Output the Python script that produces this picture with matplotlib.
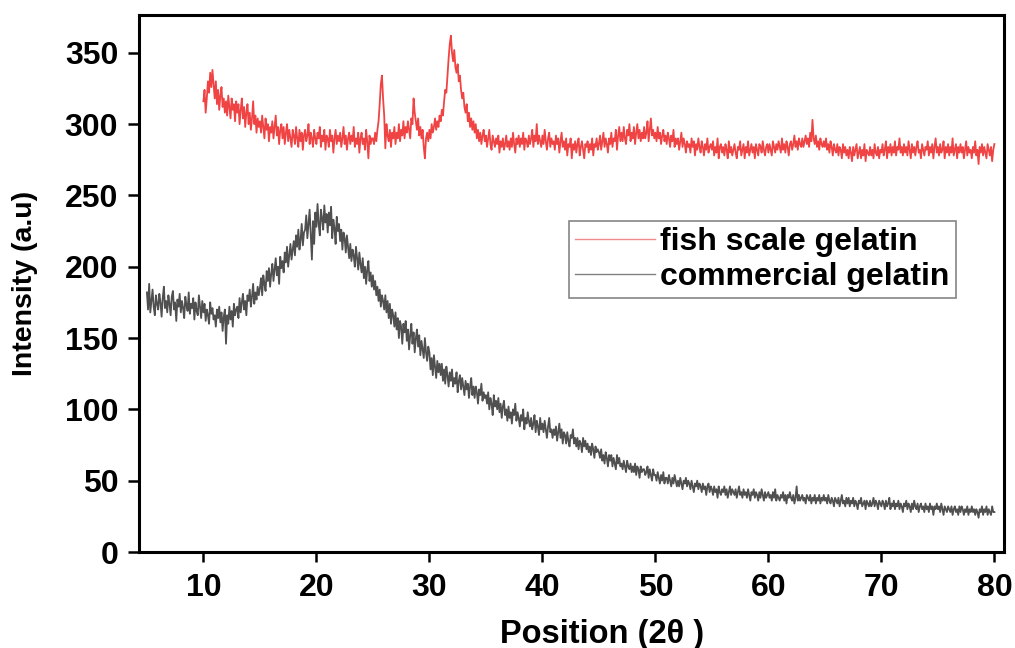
import numpy as np
import matplotlib
matplotlib.use("Agg")
import matplotlib.pyplot as plt
from matplotlib.lines import Line2D

# ---------------- data ----------------
# 2-theta positions, 0.1 degree step; one row = one degree
commercial_start, commercial_step = 5.0, 0.1
fish_start, fish_step = 10.0, 0.1

commercial_gelatin = [
    182, 170, 188, 168, 176, 184, 172, 166, 180, 174,
    170, 181, 175, 165, 178, 186, 171, 176, 168, 180,
    174, 166, 179, 183, 170, 175, 162, 177, 172, 181,
    168, 176, 171, 164, 179, 173, 169, 182, 167, 174,
    171, 178, 163, 175, 169, 166, 180, 172, 164, 176,
    168, 174, 162, 170, 166, 160, 175, 167, 171, 163,
    166, 158, 170, 164, 172, 161, 168, 155, 165, 170,
    146, 166, 160, 172, 163, 169, 158, 174, 166, 170,
    172, 164, 178, 168, 175, 181, 170, 176, 166, 180,
    176, 184, 172, 179, 188, 174, 182, 177, 186, 180,
    185, 192, 180, 194, 188, 183, 197, 190, 199, 186,
    195, 202, 190, 198, 206, 194, 200, 188, 207, 199,
    204, 196, 210, 203, 214, 200, 208, 216, 205, 212,
    218, 208, 222, 214, 226, 212, 219, 230, 215, 224,
    226, 236, 220, 230, 240, 222, 205, 232, 216, 238,
    228, 244, 230, 222, 240, 234, 226, 243, 231, 237,
    224, 238, 229, 242, 220, 233, 227, 216, 235, 225,
    230, 218, 226, 212, 224, 220, 210, 222, 214, 206,
    216, 204, 212, 208, 200, 214, 206, 198, 210, 202,
    196, 206, 192, 200, 188, 198, 204, 190, 196, 186,
    194, 184, 190, 180, 186, 176, 184, 172, 180, 176,
    170, 180, 168, 176, 164, 174, 160, 170, 166, 158,
    168, 156, 164, 150, 162, 158, 146, 160, 154, 162,
    148, 156, 142, 152, 160, 146, 154, 140, 150, 156,
    144, 152, 138, 148, 142, 136, 150, 140, 134, 144,
    140, 128, 136, 124, 138, 130, 122, 134, 126, 132,
    124, 132, 120, 128, 118, 130, 124, 116, 126, 120,
    128, 116, 122, 118, 126, 112, 120, 124, 114, 122,
    116, 110, 120, 114, 118, 108, 116, 122, 110, 116,
    108, 116, 112, 104, 114, 110, 118, 106, 112, 108,
    110, 104, 112, 100, 108, 104, 96, 110, 102, 106,
    100, 108, 98, 104, 94, 102, 106, 96, 100, 92,
    102, 94, 98, 90, 100, 96, 104, 92, 98, 94,
    88, 96, 92, 100, 86, 94, 90, 98, 92, 88,
    94, 86, 90, 96, 84, 92, 88, 82, 94, 86,
    90, 84, 92, 86, 80, 88, 94, 84, 86, 80,
    86, 82, 88, 78, 84, 90, 80, 86, 76, 84,
    82, 76, 84, 78, 74, 82, 80, 86, 76, 80,
    74, 80, 72, 78, 76, 70, 80, 74, 78, 72,
    76, 70, 74, 68, 76, 72, 66, 74, 70, 72,
    70, 66, 72, 64, 68, 62, 70, 66, 60, 68,
    64, 68, 60, 66, 62, 58, 68, 62, 66, 60,
    62, 58, 64, 60, 56, 64, 60, 58, 62, 56,
    60, 56, 62, 54, 60, 58, 52, 60, 56, 58,
    58, 54, 56, 60, 52, 58, 54, 50, 58, 54,
    54, 50, 56, 52, 48, 54, 50, 56, 48, 52,
    52, 48, 54, 50, 46, 52, 48, 54, 50, 46,
    50, 46, 52, 48, 44, 50, 48, 52, 46, 50,
    48, 44, 50, 46, 42, 48, 46, 50, 44, 48,
    46, 42, 48, 44, 46, 40, 46, 48, 42, 46,
    44, 40, 46, 42, 44, 38, 46, 42, 40, 44,
    42, 46, 40, 44, 38, 42, 46, 40, 44, 42,
    40, 44, 38, 42, 46, 40, 42, 38, 44, 40,
    42, 38, 44, 40, 36, 42, 40, 44, 38, 42,
    40, 36, 42, 38, 44, 40, 36, 42, 38, 40,
    42, 38, 40, 36, 42, 38, 44, 36, 40, 38,
    36, 40, 38, 42, 36, 40, 34, 40, 38, 42,
    38, 36, 40, 34, 38, 46, 36, 40, 36, 38,
    40, 36, 38, 34, 40, 38, 36, 40, 34, 38,
    36, 40, 34, 38, 36, 40, 34, 38, 36, 40,
    36, 38, 34, 40, 36, 34, 38, 36, 32, 38,
    36, 34, 38, 32, 36, 40, 34, 36, 32, 38,
    34, 38, 32, 36, 34, 38, 32, 36, 34, 30,
    36, 34, 38, 32, 34, 36, 30, 36, 34, 32,
    36, 32, 34, 38, 32, 36, 34, 30, 36, 34,
    32, 36, 34, 30, 36, 32, 34, 38, 30, 34,
    32, 36, 30, 34, 32, 36, 30, 34, 32, 28,
    34, 32, 36, 30, 34, 32, 28, 34, 30, 36,
    32, 30, 34, 28, 32, 34, 30, 32, 28, 34,
    30, 32, 28, 34, 30, 32, 26, 32, 30, 34,
    30, 32, 28, 34, 30, 26, 32, 30, 28, 32,
    30, 28, 32, 26, 30, 32, 28, 30, 26, 32,
    28, 32, 30, 26, 30, 28, 32, 26, 30, 28,
    32, 28, 30, 26, 30, 28, 24, 30, 28, 32,
    26, 30, 28, 32, 26, 30, 28, 26, 32, 28,
    28,
]

fish_scale_gelatin = [
    316, 324, 308, 318, 330, 322, 336, 326, 338, 328,
    318, 330, 314, 324, 310, 320, 326, 312, 318, 308,
    316, 306, 320, 312, 304, 318, 310, 314, 302, 316,
    308, 314, 300, 310, 318, 304, 312, 298, 308, 314,
    300, 308, 296, 304, 316, 300, 306, 294, 304, 298,
    302, 294, 306, 298, 290, 304, 296, 300, 288, 298,
    294, 302, 290, 298, 306, 292, 298, 286, 296, 300,
    290, 298, 286, 294, 300, 288, 296, 290, 284, 296,
    292, 286, 298, 290, 284, 296, 288, 294, 282, 292,
    296, 288, 292, 300, 286, 294, 290, 284, 296, 290,
    286, 294, 290, 298, 284, 292, 288, 296, 282, 292,
    290, 284, 296, 288, 292, 280, 290, 296, 286, 292,
    288, 294, 284, 290, 298, 286, 292, 282, 290, 294,
    286, 292, 288, 298, 284, 290, 286, 294, 280, 290,
    294, 286, 290, 282, 296, 288, 276, 292, 286, 290,
    290, 286, 294, 288, 296, 302, 314, 328, 334, 318,
    306, 283, 300, 292, 288, 296, 284, 294, 290, 298,
    286, 294, 290, 300, 288, 296, 292, 302, 290, 298,
    294, 302, 296, 290, 304, 300, 318, 308, 302, 296,
    304, 292, 298, 290, 296, 284, 276, 290, 294, 288,
    296, 290, 300, 294, 298, 304, 296, 302, 298, 306,
    302, 310, 306, 316, 324, 322, 334, 346, 356, 362,
    350, 344, 352, 340, 336, 342, 330, 334, 324, 318,
    322, 312, 308, 314, 302, 308, 298, 304, 296, 302,
    294, 300, 290, 296, 288, 294, 286, 292, 296, 288,
    292, 284, 290, 296, 286, 282, 292, 288, 284, 290,
    286, 292, 280, 288, 284, 290, 282, 286, 292, 284,
    288, 282, 290, 284, 294, 286, 280, 290, 286, 292,
    284, 290, 286, 294, 282, 290, 288, 284, 292, 286,
    290, 296, 284, 292, 288, 300, 286, 292, 288, 284,
    292, 286, 296, 288, 282, 290, 294, 284, 290, 286,
    288, 282, 292, 286, 290, 280, 288, 294, 284, 288,
    282, 290, 278, 286, 284, 290, 276, 286, 282, 288,
    280, 286, 290, 278, 284, 288, 282, 276, 286, 284,
    288, 280, 286, 282, 290, 278, 286, 284, 290, 282,
    286, 292, 282, 288, 294, 284, 290, 286, 280, 290,
    286, 294, 284, 290, 288, 296, 282, 292, 298, 288,
    294, 288, 298, 290, 286, 296, 292, 300, 288, 294,
    290, 298, 286, 294, 300, 290, 296, 288, 294, 290,
    298, 290, 294, 302, 288, 296, 304, 292, 296, 290,
    294, 288, 298, 290, 294, 286, 292, 296, 288, 292,
    286, 294, 290, 284, 292, 288, 296, 284, 290, 286,
    290, 282, 288, 294, 284, 290, 286, 280, 288, 284,
    286, 280, 290, 284, 288, 278, 286, 282, 290, 284,
    280, 288, 284, 278, 286, 282, 290, 280, 284, 286,
    282, 288, 278, 284, 280, 290, 276, 284, 286, 280,
    284, 278, 286, 282, 276, 288, 280, 284, 278, 282,
    286, 280, 276, 284, 282, 288, 278, 282, 286, 276,
    284, 280, 288, 278, 282, 286, 280, 284, 276, 286,
    282, 278, 286, 284, 280, 288, 282, 278, 284, 286,
    280, 286, 282, 278, 288, 284, 280, 286, 282, 288,
    284, 280, 290, 282, 286, 280, 288, 284, 278, 286,
    288, 282, 286, 292, 284, 288, 282, 290, 286, 284,
    290, 284, 288, 292, 286, 290, 284, 294, 288, 303,
    290, 286, 292, 284, 288, 282, 290, 286, 284, 288,
    284, 290, 282, 286, 280, 288, 284, 278, 286, 282,
    280, 286, 278, 284, 282, 276, 286, 280, 284, 278,
    282, 276, 284, 280, 274, 284, 278, 282, 286, 276,
    280, 284, 276, 282, 278, 286, 274, 282, 280, 278,
    284, 278, 282, 276, 286, 280, 278, 284, 276, 282,
    280, 286, 278, 282, 288, 276, 284, 280, 286, 278,
    284, 280, 288, 278, 284, 282, 290, 280, 284, 278,
    286, 280, 284, 278, 288, 282, 276, 286, 280, 284,
    278, 284, 288, 280, 282, 276, 286, 282, 278, 284,
    282, 288, 278, 284, 280, 286, 276, 284, 290, 280,
    284, 278, 286, 280, 282, 288, 276, 284, 280, 286,
    278, 284, 280, 290, 278, 282, 286, 276, 284, 280,
    286, 280, 284, 276, 282, 288, 278, 284, 280, 282,
    276, 284, 280, 288, 278, 282, 272, 284, 280, 286,
    278, 284, 280, 276, 286, 282, 278, 284, 274, 282,
    286,
]

series_labels = ["fish scale gelatin", "commercial gelatin"]
x_ticks = [10, 20, 30, 40, 50, 60, 70, 80]
y_ticks = [0, 50, 100, 150, 200, 250, 300, 350]

x_commercial = commercial_start + commercial_step * np.arange(len(commercial_gelatin))
x_fish = fish_start + fish_step * np.arange(len(fish_scale_gelatin))

# ---------------- figure ----------------
plt.rcParams['font.family'] = ['Liberation Sans', 'DejaVu Sans']
plt.rcParams['font.weight'] = 'bold'

fig = plt.figure(figsize=(10.15, 6.48), dpi=100)
ax = fig.add_axes([139 / 1015, 1 - 552 / 648, (1004 - 139) / 1015, (552 - 15) / 648])

red = '#f04444'
gray = '#505050'
ax.plot(x_fish, fish_scale_gelatin, color=red, lw=1.3)
ax.plot(x_commercial, commercial_gelatin, color=gray, lw=1.3)

ax.set_xlim(4.3, 80.85)
ax.set_ylim(0, 376.5)
ax.set_xticks(x_ticks)
ax.set_yticks(y_ticks)
ax.tick_params(axis='x', direction='out', length=7, width=1.8, pad=8, labelsize=23, top=False)
ax.tick_params(axis='y', direction='out', length=8, width=1.8, pad=7, labelsize=23, right=False)
for lab in ax.get_xticklabels() + ax.get_yticklabels():
    lab.set_fontweight('bold')
for sp in ax.spines.values():
    sp.set_linewidth(2.2)
    sp.set_color('black')

ax.set_xlabel('Position (2θ )', fontsize=23.5, fontweight='bold')
ax.xaxis.set_label_coords(0.535, -0.124)
ax.set_ylabel('Intensity (a.u)', fontsize=20.5, fontweight='bold')
ax.yaxis.set_label_coords(-0.117, 0.5)

handles = [Line2D([], [], color='#f08a8a', lw=1.0), Line2D([], [], color='#808080', lw=1.0)]
leg = ax.legend(handles, series_labels, loc='upper left', bbox_to_anchor=(0.497, 0.617),
                fontsize=23, frameon=True, fancybox=False, edgecolor='#666666',
                handlelength=2.5, handletextpad=0.15, labelspacing=0.15, borderpad=0.2,
                borderaxespad=0)
leg.get_frame().set_linewidth(1.2)
for t in leg.get_texts():
    t.set_fontweight('bold')

fig.savefig('out.png', dpi=100)
